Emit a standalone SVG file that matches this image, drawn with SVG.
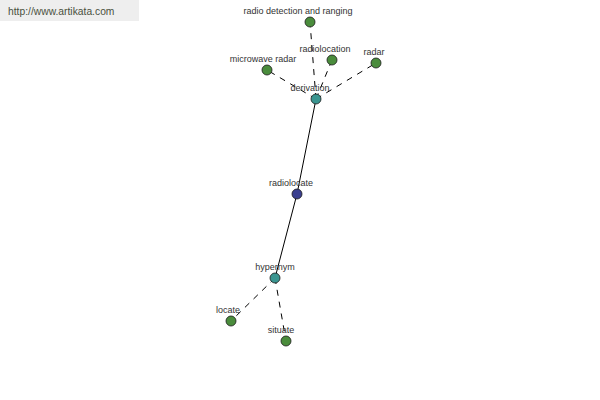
<svg xmlns="http://www.w3.org/2000/svg" width="600" height="400" viewBox="0 0 600 400">
<style>
.lbl{font-family:"Liberation Sans",Arial,sans-serif;font-size:9px;fill:#333;text-anchor:middle}
.n{stroke:#1a1a1a;stroke-width:0.8}
.g{fill:#4a8c3c}
.t{fill:#3a9590}
.b{fill:#3a3f8f}
.e{stroke:#000;stroke-width:1;fill:none}
.d{stroke-dasharray:6,6}
</style>
<rect width="600" height="400" fill="#fff"/>
<g id="banner">
<rect x="0" y="0" width="139" height="21" fill="#eeeeee"/>
<text x="8" y="15" font-family="Liberation Sans,Arial,sans-serif" font-size="10.3" fill="#4a5040">http://www.artikata.com</text>
</g>
<g id="connectors">
<line class="e d" x1="316" y1="99" x2="310" y2="22"/>
<line class="e d" x1="316" y1="99" x2="332" y2="60"/>
<line class="e d" x1="316" y1="99" x2="376" y2="63"/>
<line class="e d" x1="316" y1="99" x2="267" y2="70"/>
<line class="e" x1="316" y1="99" x2="297" y2="194"/>
<line class="e" x1="297" y1="194" x2="275" y2="278"/>
<line class="e d" x1="275" y1="278" x2="231" y2="321"/>
<line class="e d" x1="275" y1="278" x2="286" y2="341"/>
</g>
<g id="n-rdar"><circle class="n g" cx="310" cy="22" r="5"/><text class="lbl" x="298" y="14">radio detection and ranging</text></g>
<g id="n-radiolocation"><circle class="n g" cx="332" cy="60" r="5"/><text class="lbl" x="325" y="52">radiolocation</text></g>
<g id="n-radar"><circle class="n g" cx="376" cy="63" r="5"/><text class="lbl" x="374" y="55">radar</text></g>
<g id="n-microwave"><circle class="n g" cx="267" cy="70" r="5"/><text class="lbl" x="263" y="62">microwave radar</text></g>
<g id="n-derivation"><circle class="n t" cx="316" cy="99" r="5"/><text class="lbl" x="310" y="91">derivation</text></g>
<g id="n-radiolocate"><circle class="n b" cx="297" cy="194" r="5"/><text class="lbl" x="291" y="186">radiolocate</text></g>
<g id="n-hypernym"><circle class="n t" cx="275" cy="278" r="5"/><text class="lbl" x="275" y="270">hypernym</text></g>
<g id="n-locate"><circle class="n g" cx="231" cy="321" r="5"/><text class="lbl" x="228" y="313">locate</text></g>
<g id="n-situate"><circle class="n g" cx="286" cy="341" r="5"/><text class="lbl" x="281" y="333">situate</text></g>
</svg>
